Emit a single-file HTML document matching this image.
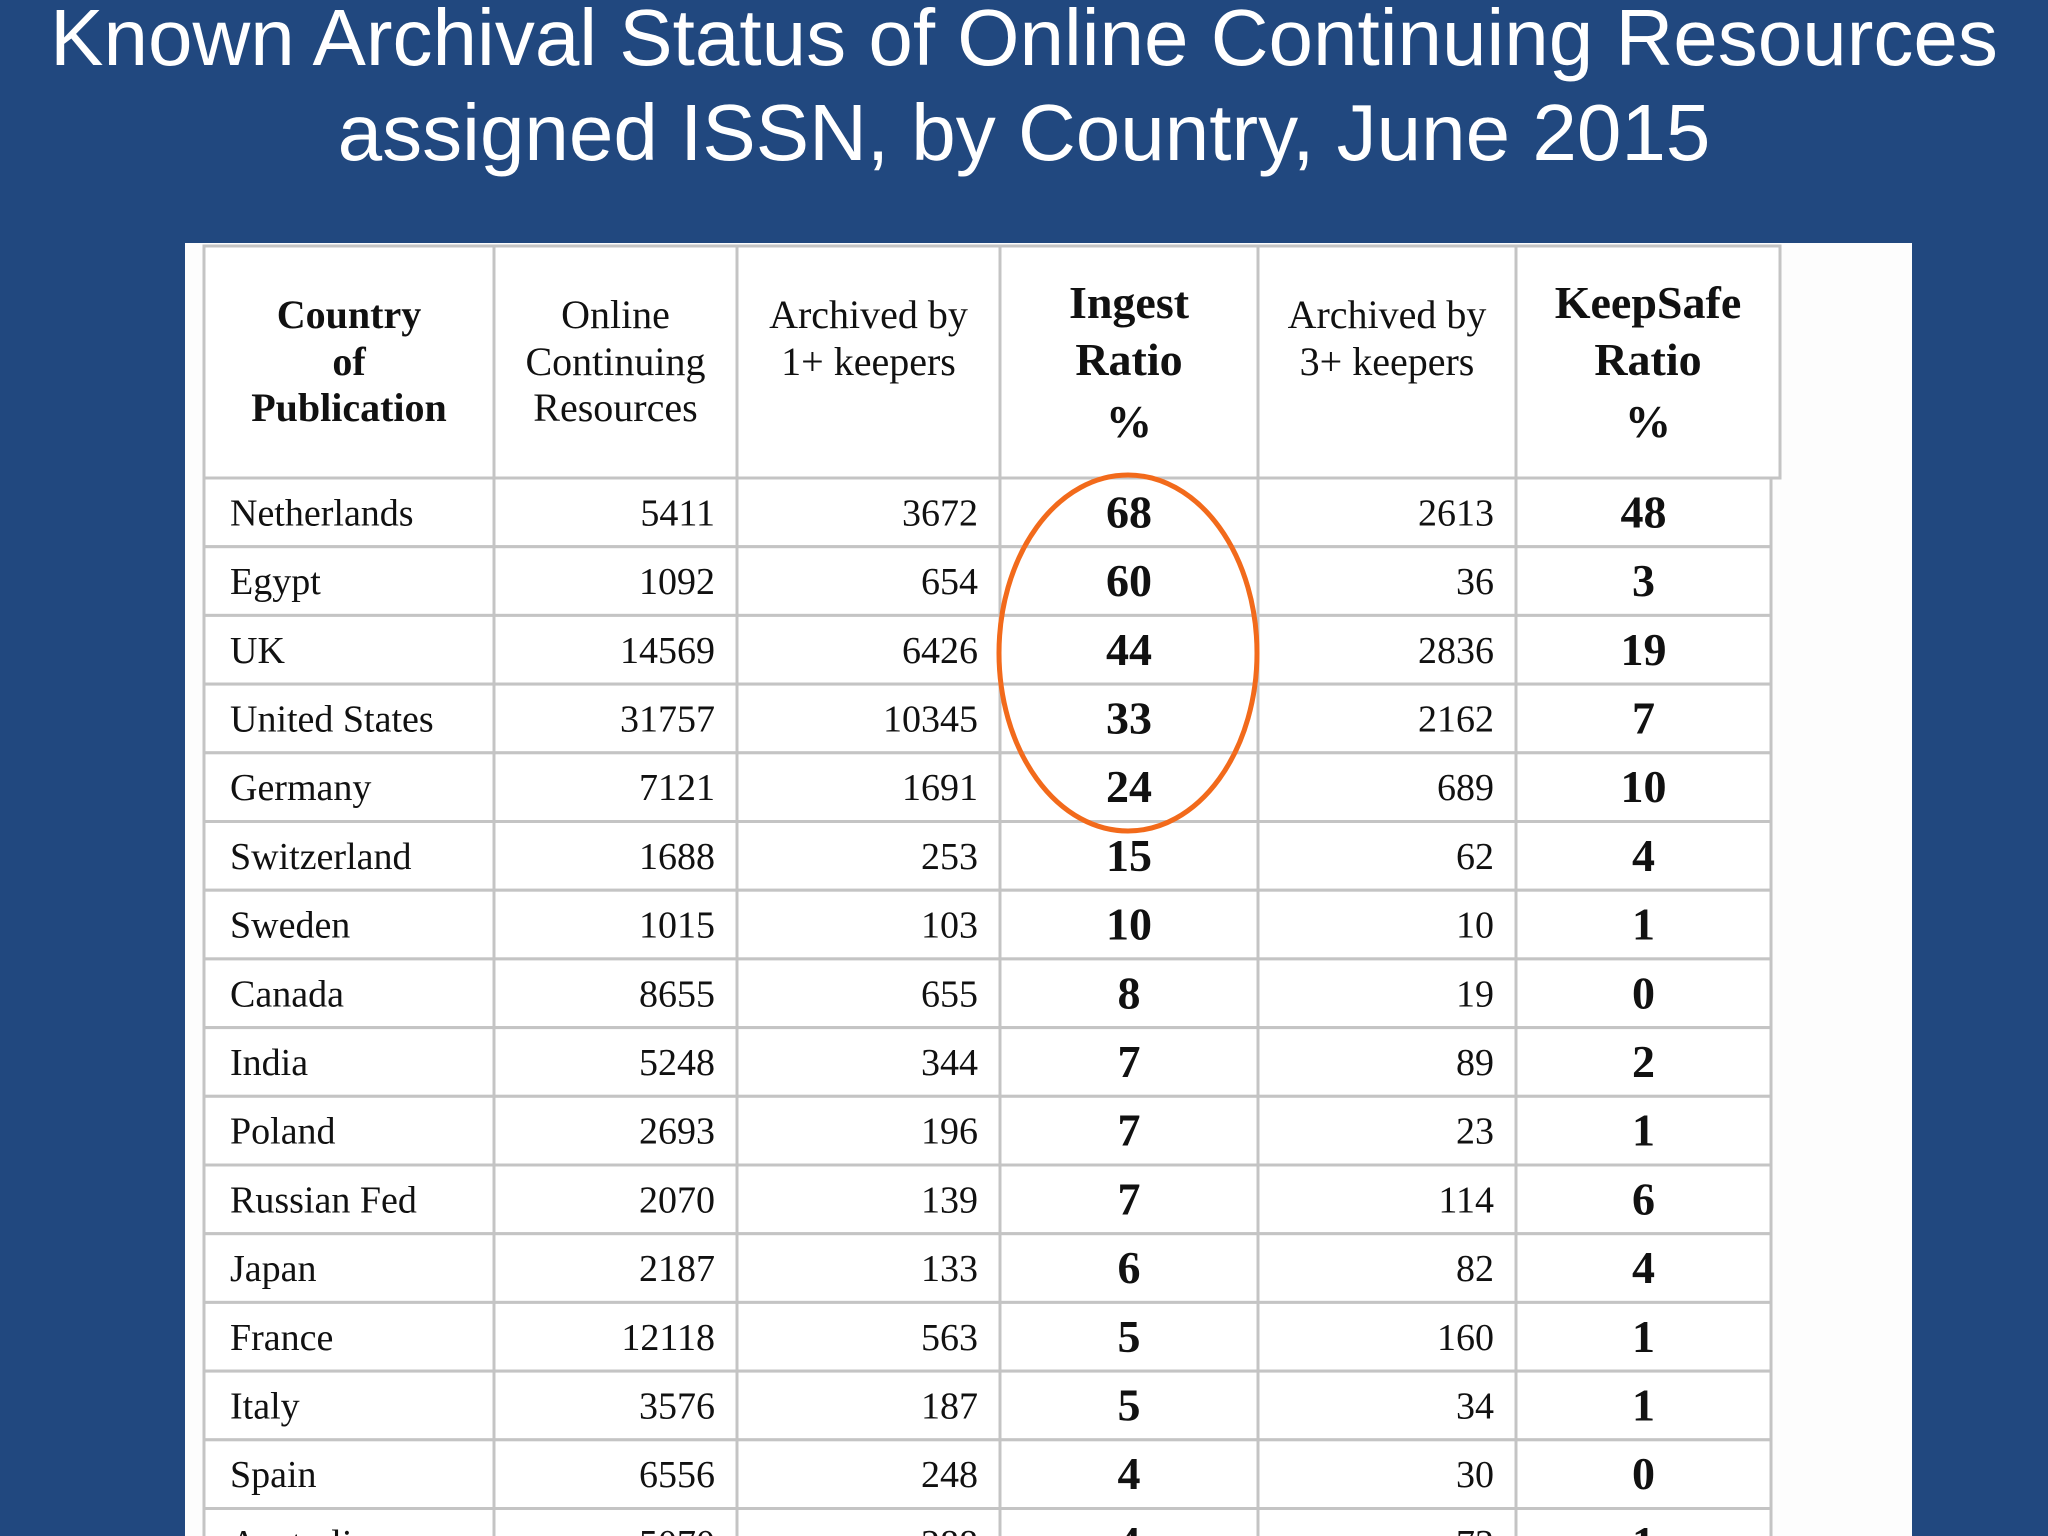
<!DOCTYPE html>
<html><head><meta charset="utf-8"><style>
html,body{margin:0;padding:0;width:2048px;height:1536px;overflow:hidden;background:#21487f;}
svg{display:block}
</style></head><body>
<svg id="chart" width="2048" height="1536" viewBox="0 0 2048 1536" xmlns="http://www.w3.org/2000/svg">
<rect x="0" y="0" width="2048" height="1536" fill="#21487f"/>
<text x="1024" y="65" text-anchor="middle" fill="#fff" font-family="Liberation Sans, sans-serif" font-size="80">Known Archival Status of Online Continuing Resources</text>
<text x="1024" y="160" text-anchor="middle" fill="#fff" font-family="Liberation Sans, sans-serif" font-size="80">assigned ISSN, by Country, June 2015</text>
<rect x="185" y="243" width="1727" height="1300" fill="#fdfdfd"/>
<g id="tbl"></g>
<ellipse cx="1128" cy="653" rx="129" ry="178" fill="none" stroke="#f26a1b" stroke-width="5"/>
</svg>
<script>
const countries=["Netherlands","Egypt","UK","United States","Germany","Switzerland","Sweden","Canada","India","Poland","Russian Fed","Japan","France","Italy","Spain","Australia"];
const onlineResources=[5411,1092,14569,31757,7121,1688,1015,8655,5248,2693,2070,2187,12118,3576,6556,5070];
const archived1=[3672,654,6426,10345,1691,253,103,655,344,196,139,133,563,187,248,288];
const ingestRatio=[68,60,44,33,24,15,10,8,7,7,7,6,5,5,4,4];
const archived3=[2613,36,2836,2162,689,62,10,19,89,23,114,82,160,34,30,73];
const keepSafe=[48,3,19,7,10,4,1,0,2,1,6,4,1,1,0,1];
const NS="http://www.w3.org/2000/svg";
const g=document.getElementById('tbl');
const cols=[204,494,737,1000,1258,1516,1780];
const headTop=246,headBot=478,rowH=68.7;
function mk(tag,attrs,txt){const e=document.createElementNS(NS,tag);for(const k in attrs)e.setAttribute(k,attrs[k]);if(txt!==undefined)e.textContent=txt;g.appendChild(e);return e;}
let hb=mk('rect',{x:cols[0],y:headTop,width:cols[6]-cols[0],height:headBot-headTop,fill:'#fff',stroke:'#c4c4c4','stroke-width':3});


const headers=[
 {l:["Country","of","Publication"],b:true,fs:40,ys:[328,375,421]},
 {l:["Online","Continuing","Resources"],b:false,fs:40,ys:[328,375,421]},
 {l:["Archived by","1+ keepers"],b:false,fs:40,ys:[328,375]},
 {l:["Ingest","Ratio","%"],b:true,fs:46,ys:[318,375,437]},
 {l:["Archived by","3+ keepers"],b:false,fs:40,ys:[328,375]},
 {l:["KeepSafe","Ratio","%"],b:true,fs:46,ys:[318,375,437]}];
headers.forEach((h,i)=>{
 const cx=(cols[i]+cols[i+1])/2;
 h.l.forEach((t,j)=>{
  const e=mk('text',{x:cx,y:h.ys[j],'text-anchor':'middle','font-family':'Liberation Serif, serif','font-size':h.fs,'font-weight':h.b?'bold':'normal',fill:'#111'},t);
  
  
 });
});
const bodyRight=1771;
for(let i=0;i<countries.length;i++){
 const y=headBot+i*rowH;
 const r=mk('rect',{x:cols[0],y:y,width:bodyRight-cols[0],height:rowH,fill:'#fff',stroke:'#c4c4c4','stroke-width':3});
 
 
 const ty=y+rowH/2+13;
 const vals=[onlineResources[i],archived1[i],ingestRatio[i],archived3[i],keepSafe[i]];
 const c=mk('text',{x:cols[0]+26,y:ty,'font-family':'Liberation Serif, serif','font-size':38,fill:'#111'},countries[i]);
 
 
 vals.forEach((v,k)=>{
  const bold=(k===2||k===4);
  const ci=k+1;
  const right=(k===4)?bodyRight:cols[ci+1];
  const attrs=bold?{x:(cols[ci]+right)/2,y:ty+2,'text-anchor':'middle','font-size':46,'font-weight':'bold'}:{x:right-22,y:ty,'text-anchor':'end','font-size':38};
  attrs['font-family']='Liberation Serif, serif';attrs.fill='#111';
  const e=mk('text',attrs,String(v));
  
  
 });
}
cols.slice(1,6).forEach(x=>{
 const l=mk('line',{x1:x,x2:x,y1:headTop,y2:1536,stroke:'#c4c4c4','stroke-width':3});
 
 
});
</script>
</body></html>
